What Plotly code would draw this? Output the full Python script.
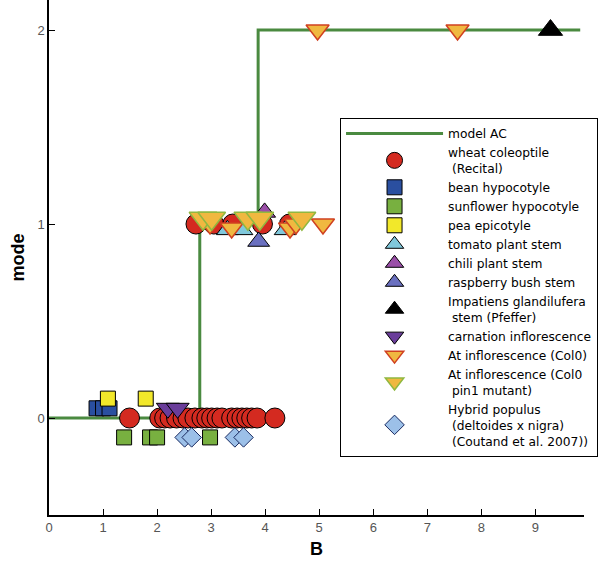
import plotly.graph_objects as go

# ---- data ----
model_x = [0, 2.79, 2.79, 3.87, 3.87, 9.83]
model_y = [0, 0, 1, 1, 2, 2]

wheat_x = [1.49, 2.05, 2.14, 2.24, 2.36, 2.48, 2.57, 2.70, 2.83, 2.92, 3.01, 3.11, 3.20,
           3.38, 3.48, 3.57, 3.66, 3.75, 3.85, 4.18,
           2.72, 3.05, 3.40, 3.95, 4.45]
wheat_y = [0] * 20 + [1, 1, 1, 1, 1]

bean_x = [0.88, 1.0, 1.12]
bean_y = [0.05, 0.05, 0.05]

sunflower_x = [1.39, 1.87, 2.0, 2.98]
sunflower_y = [-0.1, -0.1, -0.1, -0.1]

pea_x = [1.09, 1.79]
pea_y = [0.1, 0.1]

tomato_x = [3.30, 3.57, 4.37]
tomato_y = [0.97, 0.97, 0.97]

chili_x = [3.99]
chili_y = [1.06]

raspberry_x = [3.88]
raspberry_y = [0.91]

impatiens_x = [9.28]
impatiens_y = [2.0]

carnation_x = [2.2, 2.38]
carnation_y = [0.05, 0.05]

col0_x = [2.98, 3.38, 4.46, 4.57, 5.07, 4.97, 7.56]
col0_y = [1.0, 0.98, 0.98, 1.0, 1.0, 2.0, 2.0]

pin1_x = [2.85, 3.01, 3.68, 3.90, 4.68]
pin1_y = [1.03, 1.03, 1.03, 1.03, 1.03]

hybrid_x = [2.51, 2.64, 3.44, 3.60]
hybrid_y = [-0.1, -0.1, -0.1, -0.1]

x_ticks = [0, 1, 2, 3, 4, 5, 6, 7, 8, 9]
y_ticks = [0, 1, 2]

fig = go.Figure()
fig.add_trace(go.Scatter(x=model_x, y=model_y, mode="lines", name="model AC",
                         line=dict(color="#4a8a40", width=3)))

def add(x, y, name, symbol, size, fill, outline="black", lw=1):
    fig.add_trace(go.Scatter(x=x, y=y, mode="markers", name=name,
                             marker=dict(symbol=symbol, size=size, color=fill,
                                         line=dict(color=outline, width=lw))))

add(wheat_x, wheat_y, "wheat coleoptile<br> (Recital)", "circle", 20, "#d42a20")
add(bean_x, bean_y, "bean hypocotyle", "square", 15, "#2a4fa0")
add(sunflower_x, sunflower_y, "sunflower hypocotyle", "square", 15, "#78b040")
add(pea_x, pea_y, "pea epicotyle", "square", 15, "#f2e82a")
add(tomato_x, tomato_y, "tomato plant stem", "triangle-up", 19, "#80c8dc")
add(chili_x, chili_y, "chili plant stem", "triangle-up", 19, "#9a4ea8")
add(raspberry_x, raspberry_y, "raspberry bush stem", "triangle-up", 19, "#6a70c0")
add(impatiens_x, impatiens_y, "Impatiens glandilufera<br> stem (Pfeffer)", "triangle-up", 21, "#000000")
add(carnation_x, carnation_y, "carnation inflorescence", "triangle-down", 20, "#6a3d9a")
add(col0_x, col0_y, "At inflorescence (Col0)", "triangle-down", 20, "#f0b840", "#d04020", 1.5)
add(pin1_x, pin1_y, "At inflorescence (Col0<br> pin1 mutant)", "triangle-down", 24, "#f0b840", "#90b840", 1.5)
add(hybrid_x, hybrid_y, "Hybrid populus<br> (deltoides x nigra)<br> (Coutand et al. 2007))", "diamond", 15, "#9cc0e8", "#1a2a60", 1)

fig.update_layout(
    width=615, height=568,
    margin=dict(l=49, r=31, t=0, b=53),
    plot_bgcolor="white", paper_bgcolor="white",
    font=dict(family="Liberation Sans, Arial, sans-serif", color="black"),
    legend=dict(x=0.544, y=0.771, xanchor="left", yanchor="top",
                bgcolor="white", bordercolor="black", borderwidth=1,
                font=dict(size=12.25, color="black", family="DejaVu Sans"), itemwidth=97,
                tracegroupgap=0),
    xaxis=dict(range=[0, 9.9], tickvals=x_ticks, ticks="inside", ticklen=6,
               tickcolor="black", showline=True, linecolor="black", linewidth=1.5,
               showgrid=False, zeroline=False, automargin=False,
               tickfont=dict(size=13, color="#555555"),
               title=dict(text="<b>B</b>", font=dict(size=18, color="black"), standoff=8)),
    yaxis=dict(range=[-0.5, 2.155], tickvals=y_ticks, ticks="inside", ticklen=6,
               tickcolor="black", showline=True, linecolor="black", linewidth=1.5,
               showgrid=False, zeroline=False, automargin=False,
               tickfont=dict(size=13, color="#555555"),
               title=dict(text="<b>mode</b>", font=dict(size=18, color="black"), standoff=8)),
)

fig.write_html("out.html", config={"displayModeBar": False},
               post_script="document.body.style.margin='0';")
